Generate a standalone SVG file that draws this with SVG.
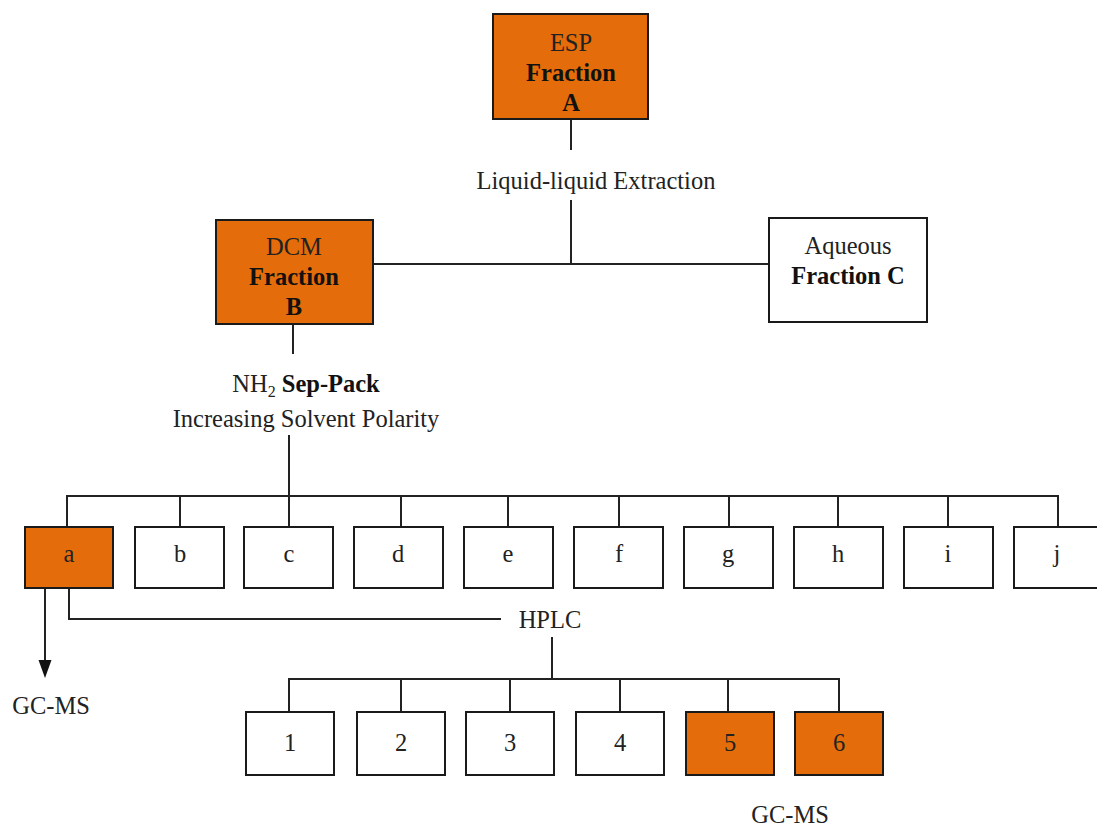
<svg xmlns="http://www.w3.org/2000/svg" width="1097" height="830" viewBox="0 0 1097 830">
<defs>
<style>
.t{font-family:"Liberation Serif","Times New Roman",serif;font-size:24.5px;fill:#222;text-anchor:middle}
.b{font-weight:bold;fill:#111}
.box{stroke:#1a1a1a;stroke-width:2}
.or{fill:#E46C0A}
.wh{fill:#fff}
.ln{stroke:#222;stroke-width:2;fill:none}
</style>
</defs>
<rect width="1097" height="830" fill="#fff"/>
<g id="connectors">
<path class="ln" d="M571,119 V150"/>
<path class="ln" d="M571,200 V264"/>
<path class="ln" d="M373,264 H769"/>
<path class="ln" d="M293,324 V354"/>
<path class="ln" d="M289,435 V496"/>
<path class="ln" d="M67,527 V496 H1058 V527"/>
<path class="ln" d="M180,496 V527 M289,496 V527 M401,496 V527 M508,496 V527 M619,496 V527 M729,496 V527 M838,496 V527 M948,496 V527"/>
<path class="ln" d="M45,588 V662"/>
<path d="M38.5,660 L51.5,660 L45,678 Z" fill="#111"/>
<path class="ln" d="M69,588 V619 H501"/>
<path class="ln" d="M552,637 V679"/>
<path class="ln" d="M289,712 V679 H839 V712"/>
<path class="ln" d="M401,679 V712 M510,679 V712 M620,679 V712 M728,679 V712"/>
</g>
<g id="nodeA">
<rect class="box or" x="493" y="14" width="155" height="105"/>
<text class="t" x="571" y="51">ESP</text>
<text class="t b" x="571" y="81">Fraction</text>
<text class="t b" x="571" y="111">A</text>
</g>
<g id="labelLLE"><text class="t" x="596" y="189">Liquid-liquid Extraction</text></g>
<g id="nodeB">
<rect class="box or" x="216" y="220" width="157" height="104"/>
<text class="t" x="294" y="255">DCM</text>
<text class="t b" x="294" y="285">Fraction</text>
<text class="t b" x="294" y="315">B</text>
</g>
<g id="nodeC">
<rect class="box wh" x="769" y="218" width="158" height="104"/>
<text class="t" x="848" y="254">Aqueous</text>
<text class="t b" x="848" y="284">Fraction C</text>
</g>
<g id="labelSep">
<text class="t" x="306" y="392">NH<tspan font-size="16" dy="5">2</tspan><tspan dy="-5"> </tspan><tspan class="b">Sep-Pack</tspan></text>
<text class="t" x="306" y="427">Increasing Solvent Polarity</text>
</g>
<g id="node-a"><rect class="box or" x="25" y="527" width="88" height="61"/><text class="t" x="69" y="562">a</text></g>
<g id="node-b"><rect class="box wh" x="135" y="527" width="89" height="61"/><text class="t" x="180" y="562">b</text></g>
<g id="node-c"><rect class="box wh" x="244" y="527" width="89" height="61"/><text class="t" x="289" y="562">c</text></g>
<g id="node-d"><rect class="box wh" x="354" y="527" width="89" height="61"/><text class="t" x="398" y="562">d</text></g>
<g id="node-e"><rect class="box wh" x="464" y="527" width="89" height="61"/><text class="t" x="508" y="562">e</text></g>
<g id="node-f"><rect class="box wh" x="574" y="527" width="89" height="61"/><text class="t" x="619" y="562">f</text></g>
<g id="node-g"><rect class="box wh" x="684" y="527" width="89" height="61"/><text class="t" x="728" y="562">g</text></g>
<g id="node-h"><rect class="box wh" x="794" y="527" width="89" height="61"/><text class="t" x="838" y="562">h</text></g>
<g id="node-i"><rect class="box wh" x="904" y="527" width="89" height="61"/><text class="t" x="948" y="562">i</text></g>
<g id="node-j"><rect class="box wh" x="1014" y="527" width="89" height="61"/><text class="t" x="1057" y="562">j</text></g>
<g id="labelGC1"><text class="t" x="51" y="714">GC-MS</text></g>
<g id="labelHPLC"><text class="t" x="550" y="628">HPLC</text></g>
<g id="node-1"><rect class="box wh" x="246" y="712" width="88" height="63"/><text class="t" x="290" y="751">1</text></g>
<g id="node-2"><rect class="box wh" x="357" y="712" width="88" height="63"/><text class="t" x="401" y="751">2</text></g>
<g id="node-3"><rect class="box wh" x="466" y="712" width="88" height="63"/><text class="t" x="510" y="751">3</text></g>
<g id="node-4"><rect class="box wh" x="576" y="712" width="88" height="63"/><text class="t" x="620" y="751">4</text></g>
<g id="node-5"><rect class="box or" x="686" y="712" width="88" height="63"/><text class="t" x="730" y="751">5</text></g>
<g id="node-6"><rect class="box or" x="795" y="712" width="88" height="63"/><text class="t" x="839" y="751">6</text></g>
<g id="labelGC2"><text class="t" x="790" y="823">GC-MS</text></g>
</svg>
